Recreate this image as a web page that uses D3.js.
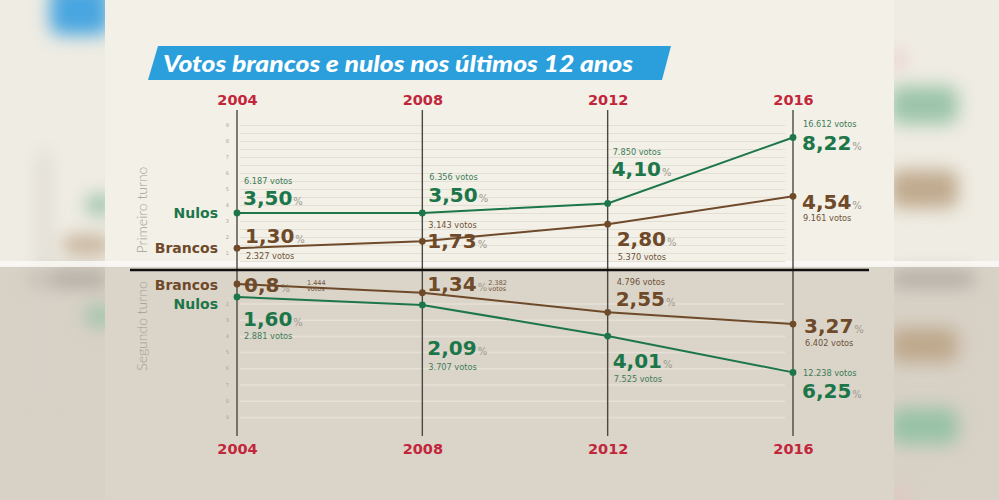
<!DOCTYPE html>
<html>
<head>
<meta charset="utf-8">
<script src="https://cdn.jsdelivr.net/npm/d3@7"></script>
<style>
  html, body { margin: 0; padding: 0; background: #efece3; }
  svg { display: block; }
  .yr text { font-family: "DejaVu Sans", sans-serif; font-weight: bold; font-size: 14.5px; fill: #c1263b; }
  .tk text { font-family: "DejaVu Sans", sans-serif; font-size: 5px; fill: #aaa59b; }
</style>
</head>
<body>
<div id="chart"></div>
<script>

// data
var years = [2004, 2008, 2012, 2016];
var nulos1 = [3.50, 3.50, 4.10, 8.22];
var brancos1 = [1.30, 1.73, 2.80, 4.54];
var nulos2 = [1.60, 2.09, 4.01, 6.25];
var brancos2 = [0.8, 1.34, 2.55, 3.27];
var brancos2Casas = [1, 2, 2, 2];
var nulos1Votos = [6187, 6356, 7850, 16612];
var brancos1Votos = [2327, 3143, 5370, 9161];
var nulos2Votos = [2881, 3707, 7525, 12238];
var brancos2Votos = [1444, 2382, 4796, 6402];
var tickLabels = [1, 2, 3, 4, 5, 6, 7, 8, 9];

var W = 999, H = 500;
var green = "#1c7649", brown = "#6f4a2a";

var svg = d3.select("#chart").append("svg")
    .attr("width", W)
    .attr("height", H);

// blurred photo edges
var defs = svg.append("defs");
defs.append("filter").attr("id", "blur")
    .attr("x", "-50%").attr("y", "-50%").attr("width", "200%").attr("height", "200%")
    .append("feGaussianBlur").attr("stdDeviation", 9);

svg.append("rect").attr("width", W).attr("height", 266).attr("fill", "#efece3");
svg.append("rect").attr("y", 266).attr("width", W).attr("height", H - 266).attr("fill", "#d8d1c6");

var blobs = [
    {x: 50, y: -15, w: 60, h: 50, c: "#4aa6e0"},
    {x: 85, y: 195, w: 30, h: 20, c: "#9cc3aa"},
    {x: 62, y: 236, w: 50, h: 18, c: "#c2ae94"},
    {x: 30, y: 272, w: 80, h: 14, c: "#aba49b"},
    {x: 85, y: 306, w: 30, h: 20, c: "#9cc3aa"},
    {x: 40, y: 150, w: 8, h: 250, c: "#d6d2c9"},
    {x: 890, y: 86, w: 68, h: 38, c: "#9cc5aa"},
    {x: 890, y: 170, w: 68, h: 38, c: "#c0aa8e"},
    {x: 890, y: 272, w: 85, h: 14, c: "#aaa59e"},
    {x: 890, y: 328, w: 68, h: 34, c: "#bea88c"},
    {x: 890, y: 408, w: 68, h: 36, c: "#98c2a6"},
    {x: 893, y: 50, w: 10, h: 20, c: "#e8b8bd"},
    {x: 893, y: 488, w: 10, h: 20, c: "#e8b8bd"}
];
svg.append("g").attr("filter", "url(#blur)")
    .selectAll("rect").data(blobs).enter().append("rect")
    .attr("x", function(d) { return d.x; })
    .attr("y", function(d) { return d.y; })
    .attr("width", function(d) { return d.w; })
    .attr("height", function(d) { return d.h; })
    .attr("rx", 10)
    .attr("fill", function(d) { return d.c; });

// the infographic panel
svg.append("rect").attr("x", 105).attr("width", 789).attr("height", 263).attr("fill", "#f3f0e7");
svg.append("rect").attr("x", 0).attr("y", 261).attr("width", W).attr("height", 6).attr("fill", "#fbfaf6").attr("opacity", 0.8);
svg.append("rect").attr("x", 105).attr("y", 267).attr("width", 789).attr("height", H - 267).attr("fill", "#dbd4c9");

// title banner
svg.append("path")
    .attr("d", "M158,46 L671,46 L662,80 L148,80 Z")
    .attr("fill", "#2b9fdb");
svg.append("text")
    .attr("x", 163).attr("y", 72)
    .attr("textLength", 470).attr("lengthAdjust", "spacingAndGlyphs")
    .style("font-family", "Lato, sans-serif")
    .style("font-weight", 900).style("font-style", "italic")
    .style("font-size", "22px").attr("fill", "#fff")
    .text("Votos brancos e nulos nos últimos 12 anos");

// scales
var x = d3.scaleLinear().domain([2004, 2016]).range([237, 793]);
var y1 = d3.scaleLinear().domain([0, 9]).range([269, 125]);
var y2 = d3.scaleLinear().domain([0, 9]).range([271, 417]);

// gridlines
svg.append("g").attr("transform", "translate(240,0)")
    .call(d3.axisLeft(y1).tickValues(d3.range(0.5, 9.01, 0.5)).tickSize(-545).tickFormat(""))
    .call(function(g) { g.select(".domain").remove(); g.selectAll("line").attr("stroke", "#e3dfd4"); });
svg.append("g").attr("transform", "translate(240,0)")
    .call(d3.axisLeft(y2).tickValues(tickLabels.slice(1)).tickSize(-545).tickFormat(""))
    .call(function(g) { g.select(".domain").remove(); g.selectAll("line").attr("stroke", "#e6e0d6").attr("stroke-width", 1.5); });

// tiny scale numbers
svg.append("g").attr("class", "tk").attr("transform", "translate(229,0)")
    .call(d3.axisLeft(y1).tickValues(tickLabels).tickSize(0).tickPadding(0))
    .call(function(g) { g.select(".domain").remove(); });
svg.append("g").attr("class", "tk").attr("transform", "translate(229,0)")
    .call(d3.axisLeft(y2).tickValues(tickLabels.slice(1)).tickSize(0).tickPadding(0))
    .call(function(g) { g.select(".domain").remove(); });

// year lines + labels
svg.append("g").selectAll("line").data(years).enter().append("line")
    .attr("x1", function(d) { return x(d); }).attr("x2", function(d) { return x(d); })
    .attr("y1", 110).attr("y2", 436)
    .attr("stroke", "#4a4843").attr("stroke-width", 1.4);

svg.append("g").attr("class", "yr").attr("transform", "translate(0,107)")
    .call(d3.axisTop(x).tickValues(years).tickFormat(d3.format("d")).tickSize(0).tickPadding(2))
    .call(function(g) { g.select(".domain").remove(); });
svg.append("g").attr("class", "yr").attr("transform", "translate(0,441)")
    .call(d3.axisBottom(x).tickValues(years).tickFormat(d3.format("d")).tickSize(0).tickPadding(3))
    .call(function(g) { g.select(".domain").remove(); });

// divider between turns
svg.append("line").attr("x1", 130).attr("x2", 869).attr("y1", 270).attr("y2", 270)
    .attr("stroke", "#111").attr("stroke-width", 2.6);

// rotated turn labels
function turno(txt, cy) {
    svg.append("text")
        .attr("transform", "translate(147," + cy + ") rotate(-90)")
        .attr("text-anchor", "middle")
        .style("font-family", "Lato, sans-serif").style("font-weight", 300)
        .style("font-size", "14px").attr("fill", "#a39f95")
        .text(txt);
}
turno("Primeiro turno", 210);
turno("Segundo turno", 326);

var locale = d3.formatLocale({decimal: ",", thousands: ".", grouping: [3], currency: ["", ""]});
var fmtVotos = locale.format(",d");

// label offsets relative to each point
var series = [
    {name: "Nulos", values: nulos1, votos: nulos1Votos, y: y1, color: green, vcolor: "#3d7c58", nameDy: 5,
     pos: [{dx: 6, p: -8, v: -29}, {dx: 6, p: -11, v: -33}, {dx: 4, p: -27, v: -48}, {dx: 9, p: 13, v: -10}]},
    {name: "Brancos", values: brancos1, votos: brancos1Votos, y: y1, color: brown, vcolor: "#6e5238", nameDy: 5,
     pos: [{dx: 8, p: -5, v: 11}, {dx: 5, p: 7, v: -13}, {dx: 9, p: 22, v: 36}, {dx: 9, p: 13, v: 25}]},
    {name: "Brancos", values: brancos2, votos: brancos2Votos, y: y2, color: brown, vcolor: "#6e5238", nameDy: 6, casas: brancos2Casas,
     pos: [{dx: 7, p: 8, side: 70, s: 1}, {dx: 5, p: -2, side: 66, s: -8}, {dx: 8, p: -6, v: -27}, {dx: 11, p: 9, v: 22}]},
    {name: "Nulos", values: nulos2, votos: nulos2Votos, y: y2, color: green, vcolor: "#3d7c58", nameDy: 12,
     pos: [{dx: 6, p: 29, v: 42}, {dx: 5, p: 50, v: 65}, {dx: 5, p: 32, v: 46}, {dx: 9, p: 26, v: 4}]}
];

var labels = svg.append("g");
var marks = svg.append("g");

series.forEach(function(s) {
    var pts = years.map(function(yr, i) { return {x: x(yr), y: s.y(s.values[i]), i: i}; });

    // name on the left
    labels.append("text")
        .attr("x", 218).attr("y", pts[0].y + s.nameDy)
        .attr("text-anchor", "end")
        .style("font-family", "DejaVu Sans, sans-serif").style("font-weight", "bold")
        .style("font-size", "14px").attr("fill", s.color)
        .text(s.name);

    pts.forEach(function(p) {
        var o = s.pos[p.i];
        var casas = s.casas ? s.casas[p.i] : 2;
        var t = labels.append("text")
            .attr("x", p.x + o.dx).attr("y", p.y + o.p)
            .style("font-family", "DejaVu Sans, sans-serif");
        t.append("tspan")
            .style("font-weight", "bold").style("font-size", "20px").attr("fill", s.color)
            .text(locale.format("." + casas + "f")(s.values[p.i]));
        t.append("tspan")
            .style("font-size", "10px").attr("fill", "#9c9a90").attr("dx", 1)
            .text("%");

        if (o.side != null) {
            // votes stacked in two small lines beside the number
            var sv = labels.append("text")
                .attr("x", p.x + o.side).attr("y", p.y + o.s)
                .style("font-family", "DejaVu Sans, sans-serif")
                .style("font-size", "6.5px").attr("fill", s.vcolor);
            sv.append("tspan").text(fmtVotos(s.votos[p.i]));
            sv.append("tspan").attr("x", p.x + o.side).attr("dy", 6.5).text("votos");
        } else {
            labels.append("text")
                .attr("x", p.x + o.dx + 1).attr("y", p.y + o.v)
                .style("font-family", "DejaVu Sans, sans-serif")
                .style("font-size", "8.2px").attr("fill", s.vcolor)
                .text(fmtVotos(s.votos[p.i]) + " votos");
        }
    });

    var line = d3.line().x(function(d) { return d.x; }).y(function(d) { return d.y; });
    marks.append("path")
        .attr("d", line(pts))
        .attr("fill", "none").attr("stroke", s.color).attr("stroke-width", 2);
    marks.selectAll(null).data(pts).enter().append("circle")
        .attr("cx", function(d) { return d.x; })
        .attr("cy", function(d) { return d.y; })
        .attr("r", 3.4)
        .attr("fill", s.color);
});

</script>
</body>
</html>
